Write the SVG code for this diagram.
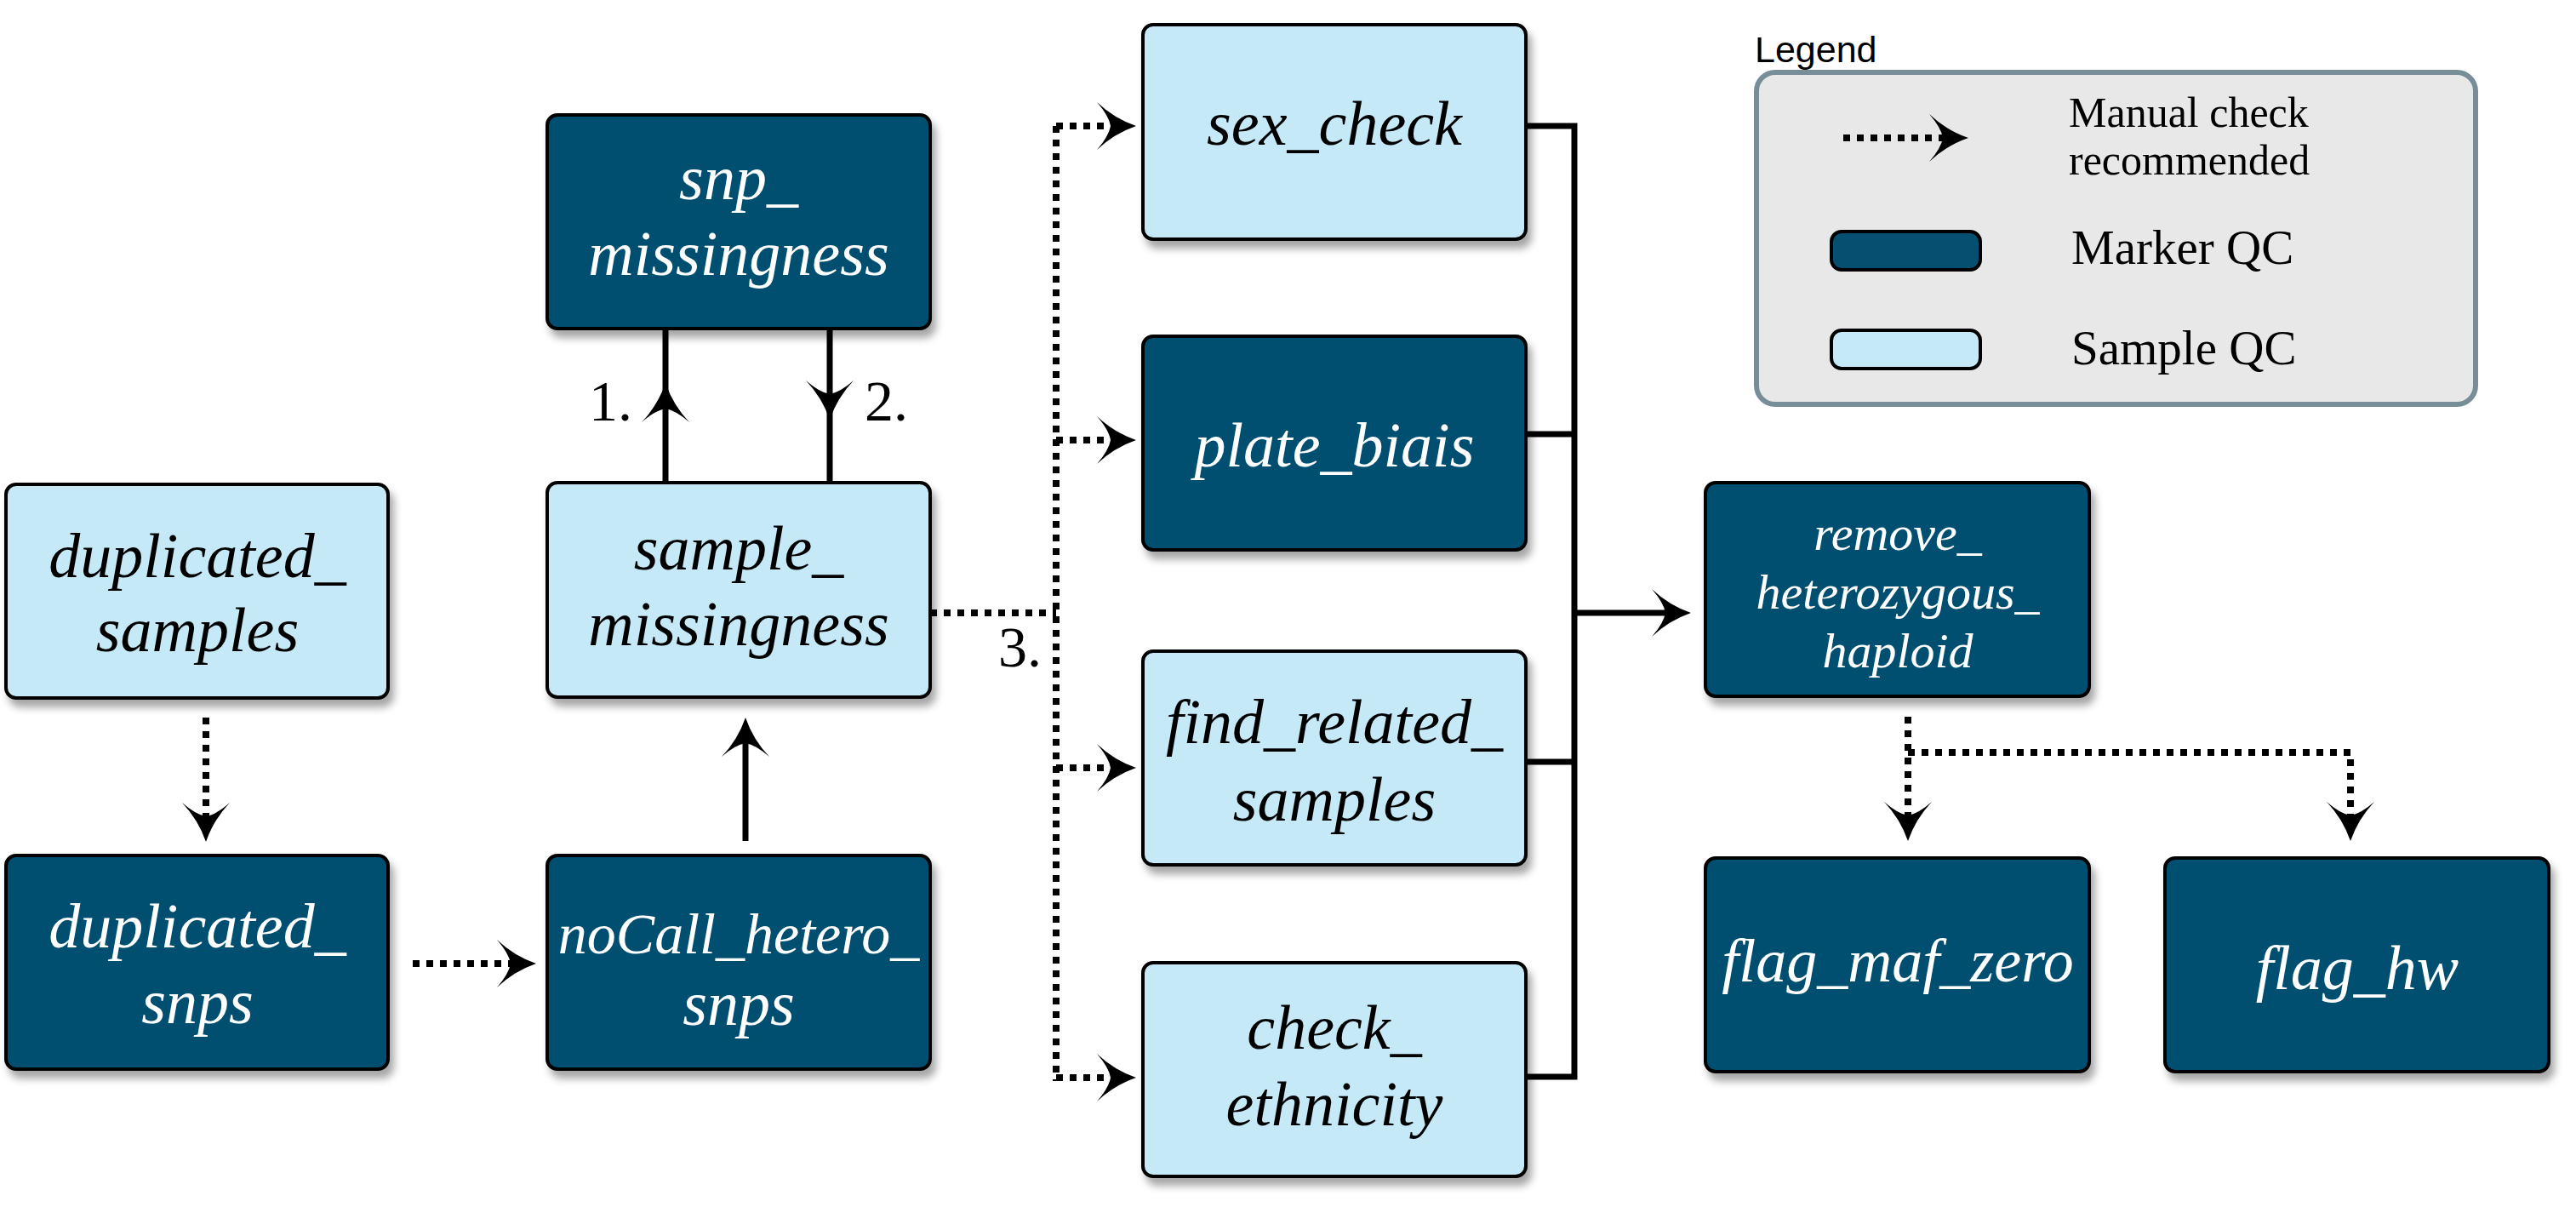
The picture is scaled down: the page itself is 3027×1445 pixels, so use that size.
<svg xmlns="http://www.w3.org/2000/svg" width="3027" height="1445" viewBox="0 0 3027 1445">
<defs>
<filter id="sh" x="-10%" y="-10%" width="125%" height="130%">
<feDropShadow dx="5" dy="9" stdDeviation="5" flood-color="#000" flood-opacity="0.35"/>
</filter>
<marker id="ah" viewBox="-20 -30 50 60" refX="0" refY="0" markerWidth="50" markerHeight="60" markerUnits="userSpaceOnUse" orient="auto">
<path d="M28,0 Q2,-9 -18,-28 Q-4,-12 -2,0 Q-4,12 -18,28 Q2,9 28,0 Z" fill="#000"/>
</marker>
<style>
.dark{fill:#064f70;stroke:#000;stroke-width:4}
.light{fill:#c5e9f7;stroke:#000;stroke-width:4}
.t{font-family:"Liberation Serif","DejaVu Serif",serif;font-style:italic;font-size:74px;text-anchor:middle}
.tw{fill:#fff}
.tb{fill:#000}
.solid{fill:none;stroke:#000;stroke-width:7}
.dot{fill:none;stroke:#000;stroke-width:8;stroke-dasharray:8 8}
.lbl{font-family:"Liberation Serif","DejaVu Serif",serif;font-size:68px;fill:#000}
.leg{font-family:"Liberation Serif","DejaVu Serif",serif;font-size:57px;fill:#000}
</style>
</defs>
<rect width="3027" height="1445" fill="#fff"/>

<g id="connectors">
<path class="solid" d="M782,567 L782,478 L782,386" marker-mid="url(#ah)"/>
<path class="solid" d="M975,386 L975,465 L975,567" marker-mid="url(#ah)"/>
<path class="dot" d="M242,843 V961" marker-end="url(#ah)"/>
<path class="solid" d="M876,988 V871" marker-end="url(#ah)"/>
<path class="dot" d="M485,1132 H602" marker-end="url(#ah)"/>
<path class="dot" d="M1093,720 H1241"/>
<path class="dot" d="M1241,148 V1270"/>
<path class="dot" d="M1241,148 H1307" marker-end="url(#ah)"/>
<path class="dot" d="M1241,517 H1307" marker-end="url(#ah)"/>
<path class="dot" d="M1241,902 H1307" marker-end="url(#ah)"/>
<path class="dot" d="M1241,1266 H1307" marker-end="url(#ah)"/>
<path class="solid" d="M1793,148 H1850 V1265 H1793"/>
<path class="solid" d="M1793,510 H1850"/>
<path class="solid" d="M1793,895 H1850"/>
<path class="solid" d="M1850,720 H1959" marker-end="url(#ah)"/>
<path class="dot" d="M2242,842 V960" marker-end="url(#ah)"/>
<path class="dot" d="M2242,884 H2762 V960" marker-end="url(#ah)"/>
<text class="lbl" x="692" y="494">1.</text>
<text class="lbl" x="1016" y="494">2.</text>
<text class="lbl" x="1173" y="783">3.</text>
</g>

<g id="snp_missingness">
<rect class="dark" x="643" y="135" width="450" height="251" rx="12" filter="url(#sh)"/>
<text class="t tw" x="868" y="234">snp_</text>
<text class="t tw" x="868" y="323">missingness</text>
</g>
<g id="sample_missingness">
<rect class="light" x="643" y="567" width="450" height="252" rx="12" filter="url(#sh)"/>
<text class="t tb" x="868" y="669">sample_</text>
<text class="t tb" x="868" y="758">missingness</text>
</g>
<g id="duplicated_samples">
<rect class="light" x="7" y="569" width="449" height="251" rx="12" filter="url(#sh)"/>
<text class="t tb" x="232" y="678">duplicated_</text>
<text class="t tb" x="232" y="765">samples</text>
</g>
<g id="duplicated_snps">
<rect class="dark" x="7" y="1005" width="449" height="251" rx="12" filter="url(#sh)"/>
<text class="t tw" x="232" y="1113">duplicated_</text>
<text class="t tw" x="232" y="1202">snps</text>
</g>
<g id="noCall_hetero_snps">
<rect class="dark" x="643" y="1005" width="450" height="251" rx="12" filter="url(#sh)"/>
<text class="t tw" x="868" y="1120" style="font-size:68px">noCall_hetero_</text>
<text class="t tw" x="868" y="1204">snps</text>
</g>
<g id="sex_check">
<rect class="light" x="1343" y="29" width="450" height="252" rx="12" filter="url(#sh)"/>
<text class="t tb" x="1568" y="170">sex_check</text>
</g>
<g id="plate_biais">
<rect class="dark" x="1343" y="395" width="450" height="251" rx="12" filter="url(#sh)"/>
<text class="t tw" x="1568" y="548">plate_biais</text>
</g>
<g id="find_related_samples">
<rect class="light" x="1343" y="765" width="450" height="251" rx="12" filter="url(#sh)"/>
<text class="t tb" x="1568" y="873">find_related_</text>
<text class="t tb" x="1568" y="964">samples</text>
</g>
<g id="check_ethnicity">
<rect class="light" x="1343" y="1131" width="450" height="251" rx="12" filter="url(#sh)"/>
<text class="t tb" x="1568" y="1232">check_</text>
<text class="t tb" x="1568" y="1322">ethnicity</text>
</g>
<g id="remove_heterozygous_haploid">
<rect class="dark" x="2004" y="567" width="451" height="251" rx="12" filter="url(#sh)"/>
<text class="t tw" x="2230" y="646" style="font-size:58px">remove_</text>
<text class="t tw" x="2230" y="715" style="font-size:58px">heterozygous_</text>
<text class="t tw" x="2230" y="784" style="font-size:58px">haploid</text>
</g>
<g id="flag_maf_zero">
<rect class="dark" x="2004" y="1008" width="451" height="251" rx="12" filter="url(#sh)"/>
<text class="t tw" x="2230" y="1153" style="font-size:72px">flag_maf_zero</text>
</g>
<g id="flag_hw">
<rect class="dark" x="2544" y="1008" width="451" height="251" rx="12" filter="url(#sh)"/>
<text class="t tw" x="2770" y="1162">flag_hw</text>
</g>

<g id="legend">
<text x="2062" y="73" style="font-family:'Liberation Sans','Open Sans',sans-serif;font-size:43px;fill:#000">Legend</text>
<rect x="2064" y="85" width="845" height="390" rx="22" fill="#e8e8e8" stroke="#778e99" stroke-width="6"/>
<path class="dot" d="M2166,162 H2285" marker-end="url(#ah)"/>
<text class="leg" x="2431" y="149" style="font-size:50px">Manual check</text>
<text class="leg" x="2431" y="205" style="font-size:50px">recommended</text>
<rect class="dark" x="2152" y="272" width="175" height="45" rx="12"/>
<text class="leg" x="2434" y="310">Marker QC</text>
<rect class="light" x="2152" y="388" width="175" height="45" rx="12"/>
<text class="leg" x="2434" y="428">Sample QC</text>
</g>
</svg>
